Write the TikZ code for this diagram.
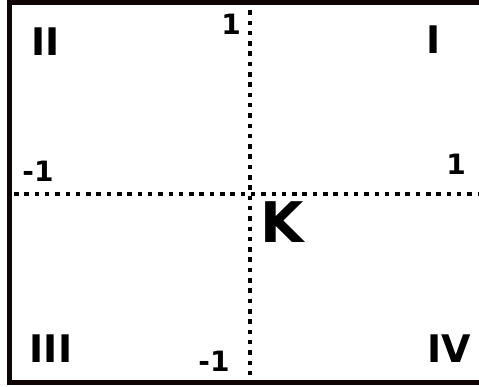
\documentclass[tikz,border=0pt]{standalone}
\usepackage{fontspec}
\setmainfont{DejaVu Sans}
\definecolor{frame}{RGB}{15,5,5}
\begin{document}
\begin{tikzpicture}[x=1pt,y=-1pt,
  lbl/.style={anchor=base,inner sep=0pt,font=\bfseries\fontsize{38}{38}\selectfont},
  num/.style={anchor=base,inner sep=0pt,font=\bfseries\fontsize{28}{28}\selectfont},
  big/.style={anchor=base,inner sep=0pt,font=\bfseries\fontsize{56}{56}\selectfont},
  axis/.style={line width=4.5pt,dash pattern=on 4.5pt off 5.8pt}]
\useasboundingbox (0,0) rectangle (479,387);
\begin{scope}
\clip (0,0) rectangle (479,387);
\draw[frame,line width=5pt] (9.5,2.5) rectangle (485,382.5);
\coordinate (vt) at (250,10.3);
\coordinate (vb) at (250,380);
\coordinate (hl) at (14,194);
\coordinate (hr) at (479,194);
\draw[axis] (vt) -- (vb);
\draw[axis] (hl) -- (hr);
\end{scope}
\node[lbl] (q2) at (46,56) {II};
\node[lbl] (q1) at (434,54) {I};
\node[lbl] (q3) at (51,362) {III};
\node[lbl] (q4) at (449,362) {IV};
\node[num] (ytop) at (231,35) {1};
\node[num] (xleft) at (38,182) {-1};
\node[num] (xright) at (456,175) {1};
\node[num] (ybot) at (214,371) {-1};
\node[big] (k) at (282,243) {K};
\end{tikzpicture}
\end{document}
